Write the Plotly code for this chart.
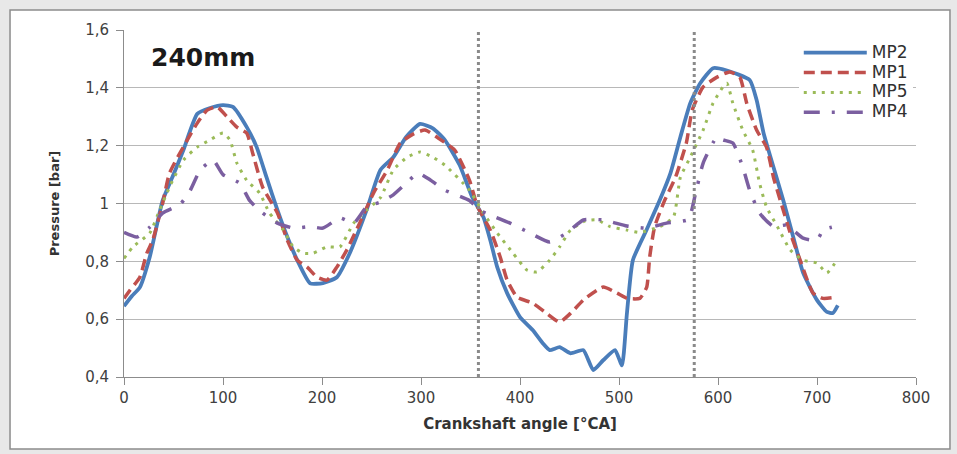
import plotly.graph_objects as go

# ---- data ----
mp2_x = [0, 8, 16, 26, 39, 50, 60, 74, 87, 100, 110, 124, 134, 144, 155, 165, 175, 188, 201, 215,
         228, 245, 259, 272, 285, 299, 312, 324, 339, 352, 363, 370, 377, 387, 400, 413, 423, 430,
         440, 451, 464, 474, 484, 496, 503, 508, 514, 528, 541, 552, 562, 572, 582, 595, 609, 632,
         639, 646, 656, 666, 676, 686, 700, 710, 716, 721]
mp2_y = [0.645, 0.68, 0.71, 0.815, 1.01, 1.10, 1.185, 1.31, 1.33, 1.34, 1.334, 1.264, 1.195, 1.09,
         0.977, 0.884, 0.804, 0.724, 0.725, 0.745, 0.828, 0.977, 1.116, 1.16, 1.23, 1.275, 1.26,
         1.22, 1.133, 1.02, 0.953, 0.873, 0.78, 0.69, 0.607, 0.562, 0.517, 0.493, 0.503, 0.482,
         0.493, 0.424, 0.458, 0.493, 0.44, 0.62, 0.804, 0.91, 1.01, 1.105, 1.23, 1.347, 1.416,
         1.468, 1.46, 1.427, 1.358, 1.244, 1.126, 1.01, 0.884, 0.76, 0.666, 0.625, 0.621, 0.648]

mp1_x = [0, 6, 16, 23, 29, 39, 46, 64, 74, 84, 94, 104, 114, 124, 130, 140, 155, 165, 175, 185,
         195, 205, 215, 225, 238, 252, 266, 279, 292, 304, 320, 334, 349, 357, 370, 380, 387, 397,
         413, 427, 440, 451, 464, 484, 498, 508, 521, 528, 531, 536, 546, 557, 568, 574, 585, 599,
         612, 622, 629, 639, 649, 656, 663, 673, 683, 696, 706, 720]
mp1_y = [0.672, 0.70, 0.745, 0.828, 0.873, 1.0, 1.105, 1.22, 1.278, 1.323, 1.334, 1.30, 1.264,
         1.243, 1.174, 1.057, 0.967, 0.873, 0.804, 0.78, 0.745, 0.735, 0.78, 0.839, 0.932, 1.036,
         1.116, 1.209, 1.24, 1.254, 1.22, 1.185, 1.08, 0.99, 0.908, 0.815, 0.735, 0.676, 0.655,
         0.62, 0.59, 0.62, 0.666, 0.711, 0.69, 0.672, 0.672, 0.711, 0.815, 0.92, 1.01, 1.09,
         1.209, 1.323, 1.403, 1.437, 1.455, 1.437, 1.347, 1.254, 1.195, 1.091, 1.01, 0.898,
         0.804, 0.69, 0.672, 0.676]

mp5_x = [0, 9, 26, 36, 46, 60, 74, 87, 100, 107, 114, 124, 137, 147, 161, 171, 181, 191, 205, 218,
         232, 245, 259, 272, 286, 299, 312, 324, 349, 363, 377, 393, 407, 417, 430, 440, 451, 466,
         478, 491, 508, 521, 541, 555, 562, 572, 585, 595, 605, 609, 615, 625, 635, 642, 649, 660,
         673, 686, 700, 710, 720]
mp5_y = [0.81, 0.85, 0.898, 0.977, 1.057, 1.15, 1.195, 1.22, 1.244, 1.22, 1.14, 1.08, 1.036, 0.967,
         0.908, 0.85, 0.828, 0.828, 0.85, 0.85, 0.932, 0.977, 1.02, 1.116, 1.16, 1.178, 1.16,
         1.133, 1.046, 0.967, 0.898, 0.828, 0.77, 0.763, 0.804, 0.85, 0.908, 0.94, 0.943, 0.92,
         0.908, 0.9, 0.92, 0.953, 1.091, 1.16, 1.254, 1.347, 1.403, 1.416, 1.347, 1.254, 1.185,
         1.07, 0.988, 0.92, 0.839, 0.804, 0.794, 0.76, 0.804]

mp4_x = [0, 13, 26, 39, 57, 67, 77, 90, 100, 117, 127, 140, 155, 171, 188, 201, 218, 232, 245, 259,
         272, 285, 297, 310, 324, 349, 360, 370, 390, 410, 430, 447, 464, 484, 508, 528, 548, 570,
         577, 585, 599, 605, 615, 625, 632, 642, 656, 669, 686, 700, 706, 715]
mp4_y = [0.90, 0.884, 0.918, 0.967, 0.998, 1.046, 1.116, 1.15, 1.10, 1.07, 1.01, 0.967, 0.932,
         0.915, 0.92, 0.915, 0.95, 0.932, 0.988, 1.005, 1.03, 1.07, 1.105, 1.08, 1.046, 1.01,
         0.975, 0.96, 0.932, 0.898, 0.867, 0.898, 0.943, 0.943, 0.922, 0.915, 0.932, 0.945, 1.03,
         1.14, 1.23, 1.22, 1.209, 1.126, 1.046, 0.967, 0.92, 0.925, 0.88, 0.873, 0.908, 0.918]

series_names = ["MP2", "MP1", "MP5", "MP4"]
marker_angles = [358, 576]
x_ticks = [0, 100, 200, 300, 400, 500, 600, 700, 800]
y_ticks = [0.4, 0.6, 0.8, 1.0, 1.2, 1.4, 1.6]

FONT = "DejaVu Sans"


def legend_name(n):
    return '<span style="font-size:17px">' + n + '</span>'


fig = go.Figure()
fig.add_trace(go.Scatter(x=mp2_x, y=mp2_y, name=legend_name(series_names[0]), mode="lines",
                         line=dict(color="#4a7dba", width=3.8, shape="spline", smoothing=0.5)))
fig.add_trace(go.Scatter(x=mp1_x, y=mp1_y, name=legend_name(series_names[1]), mode="lines",
                         line=dict(color="#c0504d", width=3.5, dash="11px,6px", shape="spline", smoothing=0.5)))
fig.add_trace(go.Scatter(x=mp5_x, y=mp5_y, name=legend_name(series_names[2]), mode="lines",
                         line=dict(color="#9bbb59", width=3, dash="3px,6px", shape="spline", smoothing=0.5)))
fig.add_trace(go.Scatter(x=mp4_x, y=mp4_y, name=legend_name(series_names[3]), mode="lines",
                         line=dict(color="#7b5fa0", width=3.5, dash="16px,12px,3px,12px", shape="spline", smoothing=0.5)))

for a in marker_angles:
    fig.add_shape(type="line", x0=a, x1=a, y0=0.4, y1=1.6, xref="x", yref="y",
                  line=dict(color="#8a8a8a", width=3, dash="dot"))

# outer chart frame
fig.add_shape(type="rect", xref="paper", yref="paper", x0=-0.1439, x1=1.0429, y0=-0.2075, y1=1.0576,
              fillcolor="white", line=dict(color="#8c8c8c", width=1.5), layer="below")

fig.add_annotation(text="<b>240mm</b>", xref="paper", yref="paper", x=0.031, y=0.92,
                   xanchor="left", yanchor="middle", showarrow=False,
                   font=dict(family=FONT, size=25, color="#1a1a1a"))

fig.update_layout(
    width=957, height=454,
    margin=dict(l=124, r=41, t=30, b=77),
    paper_bgcolor="#e8e8e8", plot_bgcolor="rgba(0,0,0,0)",
    separators=", ",
    font=dict(family=FONT, size=15, color="#404040"),
    legend=dict(x=0.852, y=0.978, xanchor="left", yanchor="top", bgcolor="white",
                font=dict(family=FONT, size=13, color="#303030"), itemwidth=63,
                tracegroupgap=0),
    xaxis=dict(range=[0, 800], tickvals=x_ticks, showgrid=False, zeroline=False,
               showline=True, linecolor="#8c8c8c", linewidth=1, ticks="outside", ticklen=7,
               tickcolor="#8c8c8c",
               title=dict(text="<b>Crankshaft angle [°CA]</b>", font=dict(family=FONT, size=15, color="#333333"),
                          standoff=12)),
    yaxis=dict(range=[0.4, 1.6], tickvals=y_ticks, showgrid=True, gridcolor="#b8b8b8", gridwidth=1,
               zeroline=False, showline=True, linecolor="#8c8c8c", linewidth=1, ticks="outside",
               ticklen=7, tickcolor="#8c8c8c", ticklabelstandoff=4,
               title=dict(text="<b>Pressure [bar]</b>", font=dict(family=FONT, size=13, color="#333333"),
                          standoff=22)),
)

fig.write_html("out.html")
